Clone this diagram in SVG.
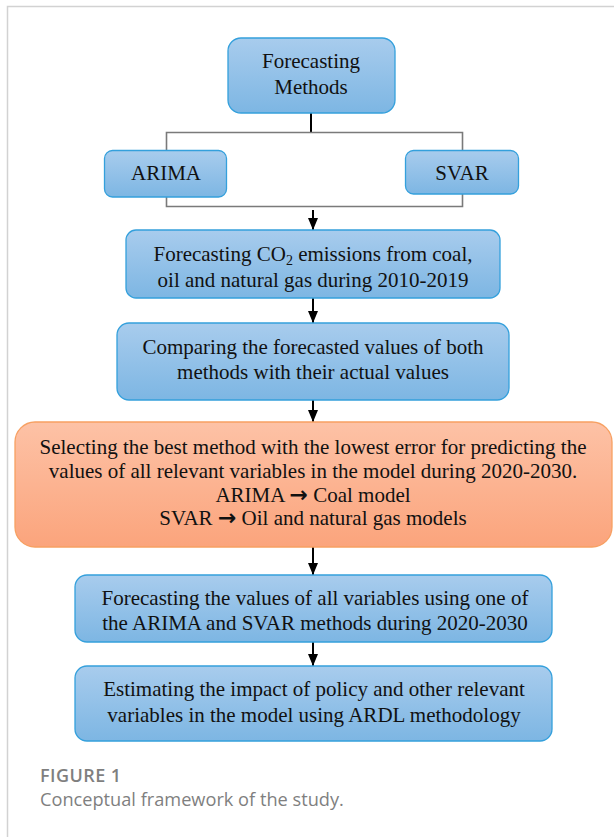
<svg xmlns="http://www.w3.org/2000/svg" width="614" height="837" viewBox="0 0 614 837">
<defs>
<linearGradient id="gb" x1="0" y1="0" x2="0" y2="1">
<stop offset="0" stop-color="#a8cced"/>
<stop offset="1" stop-color="#7db6e3"/>
</linearGradient>
<linearGradient id="go" x1="0" y1="0" x2="0" y2="1">
<stop offset="0" stop-color="#fdc2a6"/>
<stop offset="1" stop-color="#fba47c"/>
</linearGradient>
<marker id="ah" markerWidth="12" markerHeight="10" refX="12" refY="5" orient="auto" markerUnits="userSpaceOnUse" viewBox="0 0 12 10">
<path d="M0,0 L12,5 L0,10 Z" fill="#000"/>
</marker>
<style>
.bb{fill:url(#gb);stroke:#34a0dc;stroke-width:1.3}
.ob{fill:url(#go);stroke:#f7a062;stroke-width:1.3}
.t{font-family:"Liberation Serif","Times New Roman",serif;font-size:21px;fill:#111;text-anchor:middle}
.arw{font-family:"DejaVu Sans",sans-serif;font-weight:bold;font-size:22px}
.br{fill:none;stroke:#7a7a7a;stroke-width:1.6}
.ar{fill:none;stroke:#000;stroke-width:2}
.cap{font-family:"Open Sans","Noto Sans",sans-serif;fill:#7f7f7f}
</style>
</defs>
<rect x="0" y="0" width="614" height="837" fill="#fff"/>
<path d="M7.5,837 V6.5 H614" fill="none" stroke="#d2d2d2" stroke-width="1.5"/>

<g id="connectors">
<path class="ar" d="M311,113 V132"/>
<path class="br" d="M166.5,150 V132.5 H462.5 V150"/>
<path class="br" d="M166.5,197 V206.5 H462.5 V194"/>
<line class="ar" x1="313" y1="210" x2="313" y2="230" marker-end="url(#ah)"/>
<line class="ar" x1="313" y1="298" x2="313" y2="323" marker-end="url(#ah)"/>
<line class="ar" x1="313" y1="400" x2="313" y2="422" marker-end="url(#ah)"/>
<line class="ar" x1="313" y1="547" x2="313" y2="575" marker-end="url(#ah)"/>
<line class="ar" x1="313" y1="642" x2="313" y2="666" marker-end="url(#ah)"/>
</g>

<g id="forecasting-methods">
<rect class="bb" x="228" y="38" width="167" height="75" rx="13"/>
<text class="t" x="311" y="68">Forecasting</text>
<text class="t" x="311" y="94">Methods</text>
</g>

<g id="arima">
<rect class="bb" x="104.5" y="150.5" width="122" height="46.5" rx="8"/>
<text class="t" x="166" y="180">ARIMA</text>
</g>

<g id="svar">
<rect class="bb" x="405.5" y="150.5" width="113" height="43.5" rx="8"/>
<text class="t" x="462" y="180">SVAR</text>
</g>

<g id="forecasting-co2">
<rect class="bb" x="126" y="230" width="374" height="68" rx="10"/>
<text class="t" x="313" y="261">Forecasting CO<tspan font-size="14" dy="4">2</tspan><tspan dy="-4"> emissions from coal,</tspan></text>
<text class="t" x="313" y="287">oil and natural gas during 2010-2019</text>
</g>

<g id="comparing">
<rect class="bb" x="117" y="323" width="392" height="77" rx="12"/>
<text class="t" x="313" y="354">Comparing the forecasted values of both</text>
<text class="t" x="313" y="379">methods with their actual values</text>
</g>

<g id="selecting">
<rect class="ob" x="15" y="422" width="597" height="125" rx="20"/>
<text class="t" x="313" y="454">Selecting the best method with the lowest error for predicting the</text>
<text class="t" x="313" y="478">values of all relevant variables in the model during 2020-2030.</text>
<text class="t" x="313" y="502">ARIMA <tspan class="arw">→</tspan> Coal model</text>
<text class="t" x="313" y="525">SVAR <tspan class="arw">→</tspan> Oil and natural gas models</text>
</g>

<g id="forecasting-values">
<rect class="bb" x="75" y="575" width="477" height="67" rx="12"/>
<text class="t" x="315" y="605">Forecasting the values of all variables using one of</text>
<text class="t" x="315" y="630">the ARIMA and SVAR methods during 2020-2030</text>
</g>

<g id="estimating">
<rect class="bb" x="75" y="666" width="477" height="75" rx="12"/>
<text class="t" x="314" y="696">Estimating the impact of policy and other relevant</text>
<text class="t" x="314" y="722">variables in the model using ARDL methodology</text>
</g>

<text class="cap" x="40" y="782" font-size="18" font-weight="600" textLength="81" lengthAdjust="spacing">FIGURE 1</text>
<text class="cap" x="40" y="806" font-size="18.2">Conceptual framework of the study.</text>
</svg>
